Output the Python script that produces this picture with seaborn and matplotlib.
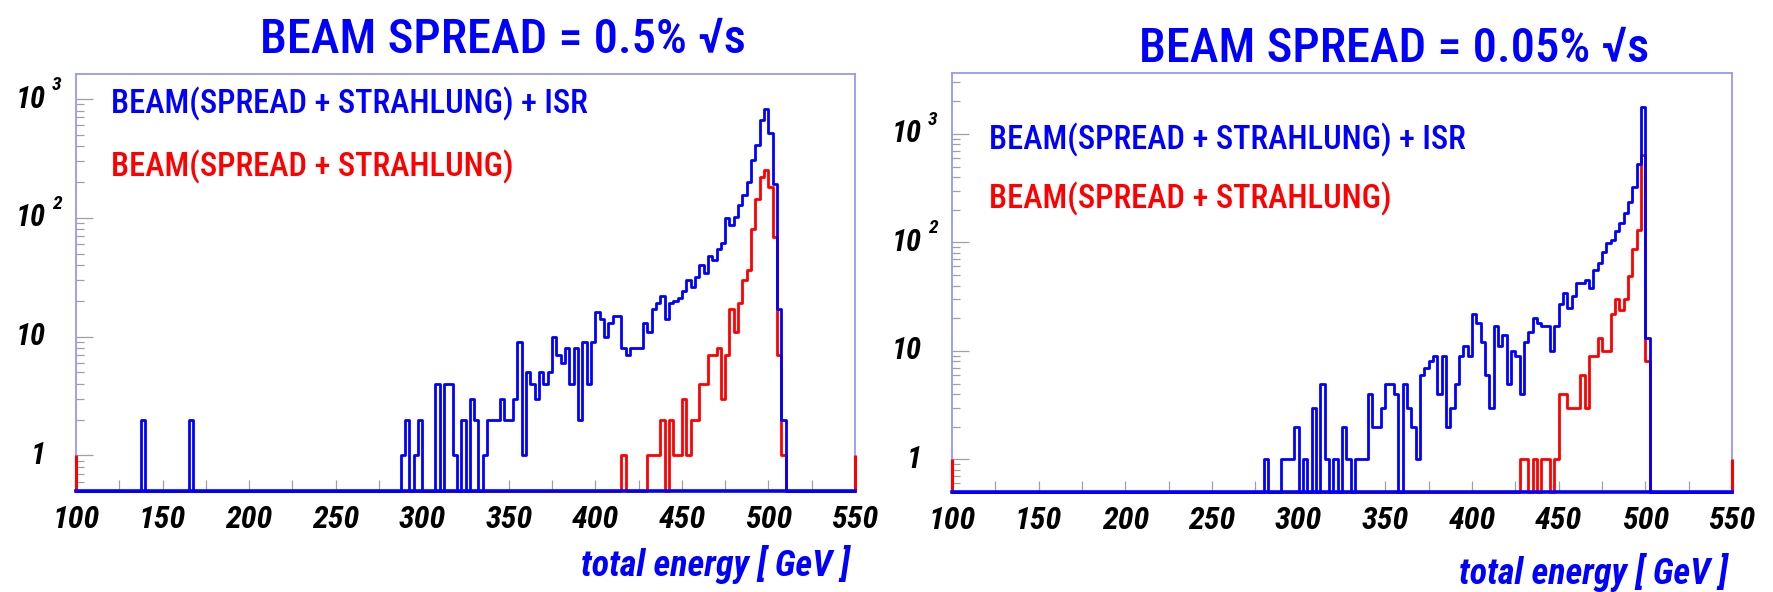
import numpy as np
import pandas as pd
import matplotlib
matplotlib.use("Agg")
import matplotlib.pyplot as plt
import matplotlib.transforms as mtransforms
from matplotlib import font_manager
from matplotlib.ticker import FixedLocator, LogLocator, NullFormatter
import seaborn as sns

# ---------------- data ----------------
E_MIN, E_MAX, BIN_W = 100.0, 550.0, 2.5

x_major = [100, 150, 200, 250, 300, 350, 400, 450, 500, 550]
x_minor = [125, 175, 225, 275, 325, 375, 425, 475, 525]

y_ticks = [1, 10, 100, 1000]
y_tick_base = ["1", "10", "10", "10"]
y_tick_exp = ["", "", "2", "3"]

titles = ["BEAM SPREAD = 0.5% \u221as", "BEAM SPREAD = 0.05% \u221as"]
label_isr = "BEAM(SPREAD + STRAHLUNG) + ISR"
label_beam = "BEAM(SPREAD + STRAHLUNG)"
x_label = "total energy [ GeV ]"

# left panel: beam spread 0.5 %
left_isr_start = 287.5
left_isr_counts = [1, 2, 0, 1, 2, 0, 0, 0, 4, 0, 4, 4, 1, 0, 2, 0, 3, 2, 0, 1,
                   2, 2, 2, 3, 2, 2, 3, 9, 1, 5, 4, 3, 5, 4, 5, 10, 7, 6, 8, 4,
                   8, 2, 9, 4, 9, 16, 14, 10, 13, 15, 15, 8, 7, 8, 8, 8, 13, 11, 17, 19,
                   22, 14, 19, 20, 21, 24, 30, 26, 32, 40, 34, 48, 44, 55, 61, 99, 87, 102, 128, 155,
                   200, 306, 409, 664, 817, 513, 194, 17, 2]
left_isr_spike_E = [137.5, 165.0]
left_isr_spike_N = [2, 2]
left_beam_start = 415.0
left_beam_counts = [1, 0, 0, 0, 0, 0, 1, 1, 1, 2, 0, 2, 1, 1, 3, 1, 2, 2, 4, 4,
                    7, 7, 8, 3, 7, 17, 11, 19, 30, 36, 81, 145, 221, 252, 182, 69, 7, 1]

# right panel: beam spread 0.05 %
right_isr_start = 280.0
right_isr_counts = [1, 0, 0, 0, 1, 1, 1, 2, 0, 1, 0, 3, 0, 5, 1, 0, 1, 0, 2, 1,
                    0, 1, 1, 1, 4, 2, 2, 3, 5, 5, 4, 0, 5, 3, 2, 1, 6, 7, 8, 9,
                    4, 9, 2, 3, 5, 9, 11, 9, 22, 18, 12, 6, 3, 17, 11, 14, 5, 10, 9, 4,
                    12, 15, 20, 18, 17, 17, 10, 17, 27, 34, 25, 32, 42, 42, 45, 38, 56, 64, 82, 99,
                    106, 126, 150, 186, 236, 327, 524, 1786, 13]
right_beam_start = 427.5
right_beam_counts = [1, 1, 0, 1, 0, 1, 1, 0, 1, 4, 4, 3, 3, 3, 6, 3, 9, 9, 13, 10,
                     10, 22, 30, 24, 30, 49, 86, 131, 641, 8]

# red marks drawn at the histogram range edges (up to 1 entry)
edge_mark_E = [100.0, 550.0]
edge_mark_N = [1, 1]

y_limits = [(0.5, 1625.0), (0.5, 3640.0)]

# ---------------- helpers ----------------
N_BINS = int(round((E_MAX - E_MIN) / BIN_W))
EDGES = E_MIN + BIN_W * np.arange(N_BINS + 1)


def full_hist(start, counts, spike_E=(), spike_N=()):
    h = np.zeros(N_BINS)
    i0 = int(round((start - E_MIN) / BIN_W))
    h[i0:i0 + len(counts)] = counts
    for e, n in zip(spike_E, spike_N):
        h[int(round((e - E_MIN) / BIN_W))] = n
    return h


def draw_hist(ax, counts, color, floor, z):
    shown = np.maximum(counts, floor)
    y = np.append(shown, shown[-1])
    df = pd.DataFrame({"E": EDGES, "N": y})
    sns.lineplot(data=df, x="E", y="N", ax=ax, color=color, lw=2.0,
                 drawstyle="steps-post", estimator=None, sort=False,
                 clip_on=False, zorder=z)


# ---------------- style ----------------
sns.set_theme(style="white")
_names = {f.name for f in font_manager.fontManager.ttflist}
if "Roboto Condensed" in _names:
    FAM = ["Roboto Condensed", "DejaVu Sans"]
    SZ = dict(title=35, legend=23.5, tick=23, ylab=22, yexp=14, xlabel=26)
    TXT_W = "medium"
else:
    FAM = ["Liberation Sans", "DejaVu Sans"]
    SZ = dict(title=30, legend=19, tick=21, ylab=20, yexp=13, xlabel=22)
    TXT_W = "normal"
plt.rcParams["font.family"] = FAM

BLUE = "#0000ff"
RED = "#ff0000"
FRAME = "#9696ff"
TICK = "#a0a0a0"
W, H = 1773, 592

fig = plt.figure(figsize=(W / 100, H / 100), dpi=100)
fig.patch.set_facecolor("white")

panels = [
    dict(rect=[76 / W, 1 - 491 / H, 779 / W, 417 / H],
         isr=full_hist(left_isr_start, left_isr_counts, left_isr_spike_E, left_isr_spike_N),
         beam=full_hist(left_beam_start, left_beam_counts),
         ylim=y_limits[0], title=titles[0], title_xy=(503 / W, 1 - 40 / H),
         leg_xy=(111 / W, 1 - 104 / H), leg2_y=1 - 167 / H,
         xl_xy=(850 / W, 1 - 565 / H)),
    dict(rect=[952 / W, 1 - 492 / H, 780 / W, 419 / H],
         isr=full_hist(right_isr_start, right_isr_counts),
         beam=full_hist(right_beam_start, right_beam_counts),
         ylim=y_limits[1], title=titles[1], title_xy=(1394 / W, 1 - 49 / H),
         leg_xy=(989 / W, 1 - 140 / H), leg2_y=1 - 199 / H,
         xl_xy=(1728 / W, 1 - 573 / H)),
]

num_font = dict(family=FAM, weight="bold", style="italic")

for p in panels:
    ax = fig.add_axes(p["rect"])
    ax.set_facecolor("white")
    floor = p["ylim"][0]
    draw_hist(ax, p["beam"], RED, floor, 3)
    draw_hist(ax, p["isr"], BLUE, floor, 4)
    ax.vlines(edge_mark_E, floor, edge_mark_N, color=RED, lw=2.2, zorder=5, clip_on=False)

    ax.set_yscale("log")
    ax.set_xlim(E_MIN, E_MAX)
    ax.set_ylim(*p["ylim"])
    ax.set_xlabel("")
    ax.set_ylabel("")

    ax.set_xticks(x_major)
    ax.set_xticklabels([str(v) for v in x_major], fontsize=SZ["tick"], color="black", **num_font)
    ax.set_xticks(x_minor, minor=True)
    ax.tick_params(axis="x", which="both", direction="in", length=8, width=0.9,
                   color=TICK, pad=10, bottom=True, top=False)

    ax.yaxis.set_major_locator(FixedLocator(y_ticks))
    ax.yaxis.set_minor_locator(LogLocator(base=10, subs=np.arange(2, 10)))
    ax.yaxis.set_major_formatter(NullFormatter())
    ax.yaxis.set_minor_formatter(NullFormatter())
    ax.tick_params(axis="y", which="major", direction="in", length=12, width=0.9,
                   color=TICK, left=True, right=False)
    ax.tick_params(axis="y", which="minor", direction="in", length=6, width=0.9,
                   color=TICK, left=True, right=False)

    for s in ax.spines.values():
        s.set_color(FRAME)
        s.set_linewidth(1.3)
    ax.spines["bottom"].set_color(BLUE)
    ax.spines["bottom"].set_linewidth(2.6)
    ax.spines["bottom"].set_zorder(6)

    ytrans = ax.get_yaxis_transform()
    base_tr = mtransforms.offset_copy(ytrans, fig=fig, x=-30, y=0, units="dots")
    exp_tr = mtransforms.offset_copy(ytrans, fig=fig, x=-24, y=14, units="dots")
    for v, b, e in zip(y_ticks, y_tick_base, y_tick_exp):
        ax.text(0, v, b, transform=base_tr, ha="right", va="center",
                fontsize=SZ["ylab"], color="black", **num_font)
        if e:
            ax.text(0, v, e, transform=exp_tr, ha="left", va="center",
                    fontsize=SZ["yexp"], color="black", **num_font)

    fig.text(*p["title_xy"], p["title"], ha="center", va="center",
             fontsize=SZ["title"], color=BLUE, family=FAM, weight=TXT_W)
    fig.text(p["leg_xy"][0], p["leg_xy"][1], label_isr, ha="left", va="center",
             fontsize=SZ["legend"], color=BLUE, family=FAM, weight=TXT_W)
    fig.text(p["leg_xy"][0], p["leg2_y"], label_beam, ha="left", va="center",
             fontsize=SZ["legend"], color=RED, family=FAM, weight=TXT_W)
    fig.text(*p["xl_xy"], x_label, ha="right", va="center", fontsize=SZ["xlabel"],
             color=BLUE, **num_font)

fig.savefig("out.png", dpi=100, facecolor="white")
